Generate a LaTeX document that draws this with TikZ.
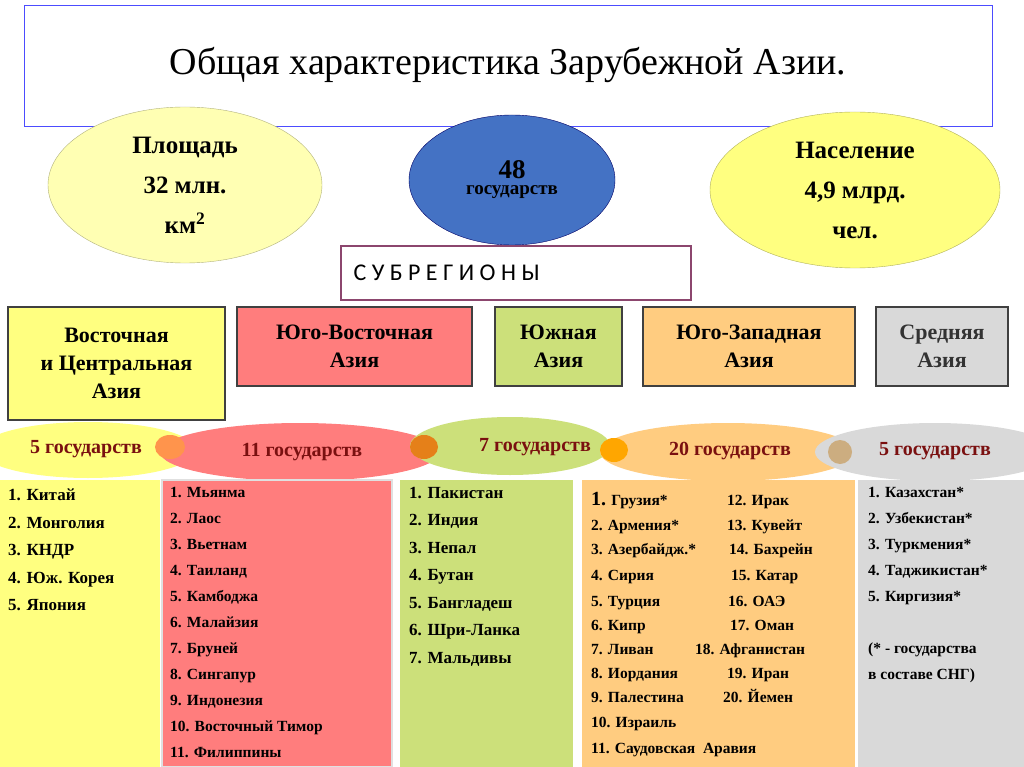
\documentclass[tikz,border=0pt]{standalone}
\usepackage{fontspec}
\setmainfont{Liberation Serif}
\newfontfamily\calib{Carlito}
\usetikzlibrary{shapes.geometric}
\definecolor{dred}{HTML}{7A1010}
\definecolor{cyel}{HTML}{FFFF80}
\definecolor{cpale}{HTML}{FFFFB3}
\definecolor{cred}{HTML}{FF7D7D}
\definecolor{cgrn}{HTML}{CCE07A}
\definecolor{cora}{HTML}{FFCC80}
\definecolor{cgry}{HTML}{D9D9D9}
\definecolor{cblu}{HTML}{4472C4}
\tikzset{
 ell/.style={ellipse,fill=#1},
 sub/.style={draw=black!75,line width=1.2pt,align=center,font=\bfseries\fontsize{22}{28}\selectfont},
 cnt/.style={font=\bfseries\fontsize{20}{24}\selectfont,text=dred},
 lst/.style={anchor=north west,align=left,font=\bfseries\fontsize{17}{27.5}\selectfont,inner sep=0pt},
 ol/.style={anchor=base west,inner sep=0pt,font=\bfseries\fontsize{15.5}{18}\selectfont}
}
\begin{document}
\begin{tikzpicture}[x=1pt,y=-1pt]
\useasboundingbox (0,0) rectangle (1024,767);
\fill[white] (0,0) rectangle (1024,767);
% title
\node[draw=blue!70,line width=0.8pt,minimum width=968,minimum height=121,font=\fontsize{38}{40}\selectfont] (title) at (508,65.5) {Общая характеристика Зарубежной Азии.};
% top ellipses
\node[ell=cpale,draw=cpale!70!black,minimum width=274,minimum height=156,align=center,font=\bfseries\fontsize{25}{40}\selectfont] (area) at (185,185) {Площадь\\32 млн.\\км\textsuperscript{2}};
\node[ell=cblu,draw=blue!40!black,minimum width=206,minimum height=130,align=center] (st) at (512,180) {{\bfseries\fontsize{27}{30}\selectfont 48}\\[4pt]{\bfseries\fontsize{19}{22}\selectfont государств}};
\node[ell=cyel,draw=cyel!70!black,minimum width=290,minimum height=156,align=center,font=\bfseries\fontsize{25}{40}\selectfont] (pop) at (855,190) {Население\\4,9 млрд.\\чел.};
\node[draw={rgb,255:red,140;green,70;blue,110},line width=2.5pt,fill=white,minimum width=350,minimum height=54] (sr) at (516,273) {};
\node[font=\calib\fontsize{24}{26}\selectfont,anchor=west] (srt) at (350,273) {С У Б Р Е Г И О Н Ы};
% subregions
\node[sub,fill=cyel,minimum width=217,minimum height=113] (r1) at (116.5,363.5) {Восточная\\и Центральная\\Азия};
\node[sub,fill=cred,minimum width=235,minimum height=79] (r2) at (354.5,346.5) {Юго-Восточная\\Азия};
\node[sub,fill=cgrn,minimum width=127,minimum height=79] (r3) at (558.5,346.5) {Южная\\Азия};
\node[sub,fill=cora,minimum width=212,minimum height=79] (r4) at (749,346.5) {Юго-Западная\\Азия};
\node[sub,fill=cgry,text=black!80,minimum width=132,minimum height=79] (r5) at (942,346.5) {Средняя\\Азия};
% count ellipses
\node[ell=cyel,minimum width=216,minimum height=56] (c1) at (88,450) {};
\node[ell=cred,minimum width=280,minimum height=58] (c2) at (300,452) {};
\node[ell=cgrn,minimum width=200,minimum height=58] (c3) at (510,446) {};
\node[ell=cora,minimum width=256,minimum height=58] (c4) at (728,452) {};
\node[ell=cgry,minimum width=240,minimum height=58] (c5) at (935,452) {};
\fill[orange!80!red!70] (170,447) ellipse (15 and 12);
\fill[orange!60!brown] (424,447) ellipse (14 and 12);
\fill[orange!70!yellow] (614,450) ellipse (14 and 12);
\fill[cora!60!gray] (840,452) ellipse (12 and 12);
\node[cnt] (t1) at (86,449) {5 государств};
\node[cnt] (t2) at (302,452) {11 государств};
\node[cnt] (t3) at (535,447) {7 государств};
\node[cnt] (t4) at (730,451) {20 государств};
\node[cnt] (t5) at (935,451) {5 государств};
% list boxes
\fill[cyel] (0,480) rectangle (160,767);
\fill[cred] (162,480) rectangle (392,767);
\draw[black!12,line width=1.5pt] (162,480) rectangle (392,767);
\fill[cgrn] (400,480) rectangle (573,767);
\fill[cora] (582,480) rectangle (855,767);
\fill[cgry] (858,480) rectangle (1024,767);
\node[lst] (l1) at (8,489) {1. Китай\\2. Монголия\\3. КНДР\\4. Юж. Корея\\5. Япония};
\node[lst,font=\bfseries\fontsize{15.5}{26}\selectfont] (l2) at (170,487) {1. Мьянма\\2. Лаос\\3. Вьетнам\\4. Таиланд\\5. Камбоджа\\6. Малайзия\\7. Бруней\\8. Сингапур\\9. Индонезия\\10. Восточный Тимор\\11. Филиппины};
\node[lst] (l3) at (409,487) {1. Пакистан\\2. Индия\\3. Непал\\4. Бутан\\5. Бангладеш\\6. Шри-Ланка\\7. Мальдивы};
\node[lst,font=\bfseries\fontsize{15.5}{26}\selectfont] (l5) at (868,487) {1. Казахстан*\\2. Узбекистан*\\3. Туркмения*\\4. Таджикистан*\\5. Киргизия*\\[26pt](* - государства\\в составе СНГ)};
% orange list
\node[ol] (o1) at (591,505) {{\fontsize{20}{20}\selectfont 1.} Грузия*};
\node[ol] (o2) at (591,530) {2. Армения*};
\node[ol] (o3) at (591,554) {3. Азербайдж.*};
\node[ol] (o4) at (591,580) {4. Сирия};
\node[ol] (o5) at (591,606) {5. Турция};
\node[ol] (o6) at (591,630) {6. Кипр};
\node[ol] (o7) at (591,654) {7. Ливан};
\node[ol] (o8) at (591,678) {8. Иордания};
\node[ol] (o9) at (591,702) {9. Палестина};
\node[ol] (o10) at (591,727) {10. Израиль};
\node[ol] (o11) at (591,753) {11. Саудовская\ \ Аравия};
\node[ol] (o12) at (727,505) {12. Ирак};
\node[ol] (o13) at (727,530) {13. Кувейт};
\node[ol] (o14) at (729,554) {14. Бахрейн};
\node[ol] (o15) at (731,580) {15. Катар};
\node[ol] (o16) at (728,606) {16. ОАЭ};
\node[ol] (o17) at (730,630) {17. Оман};
\node[ol] (o18) at (695,654) {18. Афганистан};
\node[ol] (o19) at (727,678) {19. Иран};
\node[ol] (o20) at (723,702) {20. Йемен};
\end{tikzpicture}
\end{document}
